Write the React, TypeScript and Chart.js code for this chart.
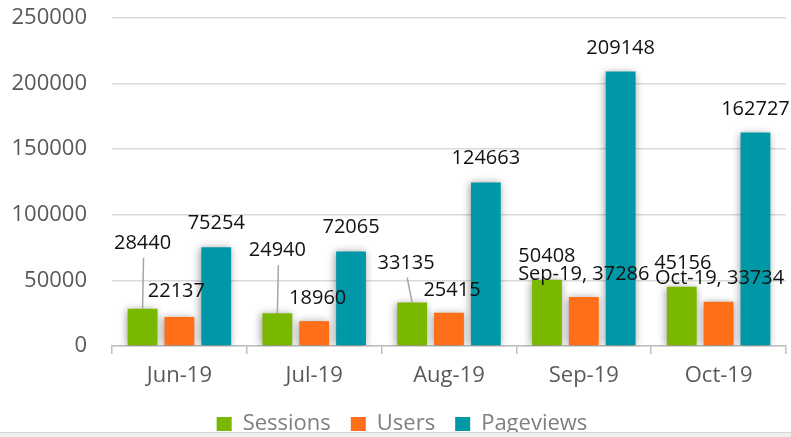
import React, { useEffect, useRef } from "react";
import { Chart, registerables } from "chart.js";

Chart.register(...registerables);

const categories = ["Jun-19", "Jul-19", "Aug-19", "Sep-19", "Oct-19"];
const sessions = [28440, 24940, 33135, 50408, 45156];
const users = [22137, 18960, 25415, 37286, 33734];
const pageviews = [75254, 72065, 124663, 209148, 162727];
const yTicks = [0, 50000, 100000, 150000, 200000, 250000];
// indexes of Users labels that also show the category name
const usersLabelWithCategory = [3, 4];

const seriesNames = ["Sessions", "Users", "Pageviews"];
const seriesColors = ["#7ab800", "#ff6e19", "#0098a6"];

// label offsets (px) from the top-centre of each bar: [dx, dy]
const labelOffsets: number[][][] = [
  [[0, -67], [0, -64], [-6, -41], [0, -25], [1, -25]],
  [[-3, -27], [3.5, -24], [3, -24], [0, -24], [1, -25]],
  [[0, -25], [0, -25], [0, -25], [0, -25], [0, -25]],
];
// label with leader line: [dataset, index]
const leaderLines = [[0, 0], [0, 1], [0, 2]];

const FONT = "'Open Sans', sans-serif";

const barEffects = {
  id: "barEffects",
  afterLayout(chart: any) {
    const lg = chart.legend;
    if (lg) {
      lg.left += 9;
      lg.right += 9;
    }
  },
  beforeDatasetsDraw(chart: any) {
    const ctx = chart.ctx;
    ctx.save();
    ctx.shadowColor = "rgba(0,0,0,0.4)";
    ctx.shadowBlur = 8;
    ctx.shadowOffsetX = -1;
    ctx.shadowOffsetY = 1;
  },
  afterDatasetsDraw(chart: any) {
    const ctx = chart.ctx;
    ctx.restore();
    ctx.save();
    ctx.font = `20px ${FONT}`;
    ctx.fillStyle = "#111111";
    ctx.textAlign = "center";
    ctx.textBaseline = "alphabetic";
    chart.data.datasets.forEach((ds: any, di: number) => {
      const meta = chart.getDatasetMeta(di);
      meta.data.forEach((bar: any, i: number) => {
        const [dx, dy] = labelOffsets[di][i];
        const cx = bar.x + dx;
        const cy = bar.y + dy;
        let text = String(ds.data[i]);
        if (di === 1 && usersLabelWithCategory.includes(i)) {
          text = `${categories[i]}, ${text}`;
        }
        const hasLeader = leaderLines.some((l) => l[0] === di && l[1] === i);
        if (hasLeader) {
          ctx.save();
          ctx.strokeStyle = "#a6a6a6";
          ctx.lineWidth = 1.5;
          ctx.beginPath();
          ctx.moveTo(cx + 1, cy + 16);
          ctx.lineTo(bar.x, bar.y);
          ctx.stroke();
          ctx.restore();
        }
        ctx.fillText(text, cx, cy + 7);
      });
    });
    ctx.restore();
  },
};

export default function App() {
  const ref = useRef<HTMLCanvasElement | null>(null);

  useEffect(() => {
    document.body.style.margin = "0";
    if (!ref.current) return;
    const chart = new Chart(ref.current, {
      type: "bar",
      data: {
        labels: categories,
        datasets: [sessions, users, pageviews].map((d, k) => ({
          label: seriesNames[k],
          data: d,
          backgroundColor: seriesColors[k],
          borderWidth: 0,
          categoryPercentage: 0.82,
          barPercentage: 0.81,
        })),
      },
      options: {
        animation: false,
        responsive: false,
        maintainAspectRatio: false,
        layout: { padding: { top: 18, right: 5, left: 0, bottom: 0 } },
        plugins: {
          tooltip: { enabled: false },
          legend: {
            position: "bottom",
            labels: {
              boxWidth: 15,
              boxHeight: 14,
              padding: 20,
              color: "#7f7f7f",
              font: { family: FONT, size: 22 },
            },
          },
        },
        scales: {
          x: {
            afterFit: (s: any) => {
              s.height = 47;
            },
            grid: {
              offset: true,
              drawOnChartArea: false,
              drawTicks: true,
              tickLength: 8,
              color: "#bfbfbf",
              lineWidth: 1.5,
            },
            border: { display: true, color: "#bfbfbf", width: 1.5 },
            ticks: {
              color: "#595959",
              padding: 9,
              font: { family: FONT, size: 22 },
            },
          },
          y: {
            min: 0,
            max: 250000,
            afterFit: (s: any) => {
              s.width = 112;
              s.paddingTop = 0;
              s.paddingBottom = 0;
            },
            afterBuildTicks: (s: any) => {
              s.ticks = yTicks.map((v) => ({ value: v }));
            },
            grid: { color: "#d9d9d9", lineWidth: 1.5, drawTicks: false },
            border: { display: false },
            ticks: {
              color: "#595959",
              padding: 25,
              font: { family: FONT, size: 22 },
              callback: (v: any) => String(v),
            },
          },
        },
      },
      plugins: [barEffects],
    });
    return () => chart.destroy();
  }, []);

  return (
    <div style={{ position: "relative", width: 791, height: 437, overflow: "hidden", background: "#fff" }}>
      <canvas ref={ref} width={791} height={445} style={{ display: "block", width: 791, height: 445 }} />
      <div
        style={{
          position: "absolute",
          left: 0,
          top: 432,
          width: 791,
          height: 5,
          background: "#eeeeee",
          borderTop: "1px solid #d6d6d6",
          boxSizing: "border-box",
        }}
      />
    </div>
  );
}
